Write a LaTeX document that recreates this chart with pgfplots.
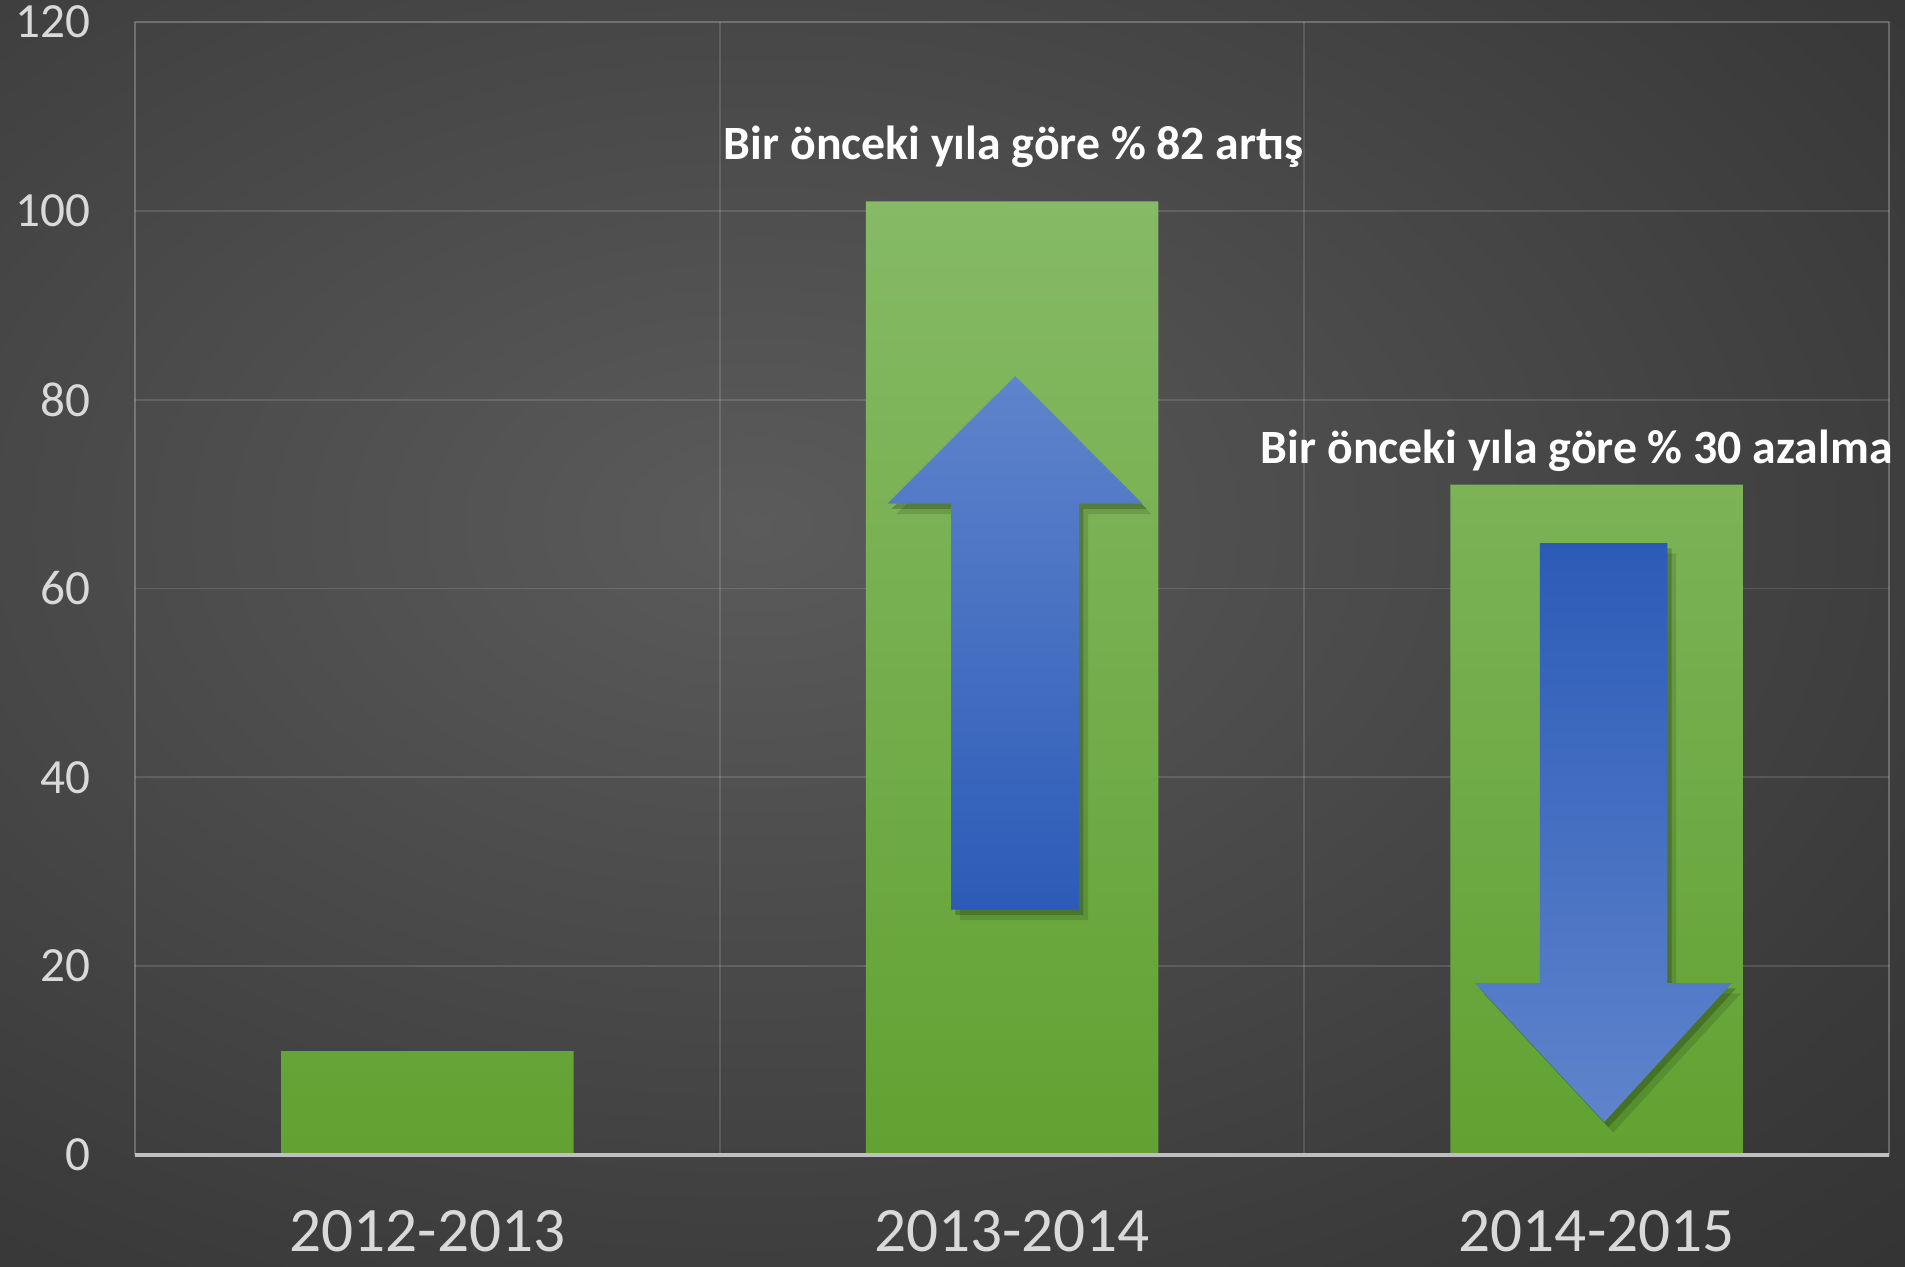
\documentclass[border=0pt]{standalone}
\usepackage{pgfplots}
\pgfplotsset{compat=1.18}
\usepackage{fontspec}
\setmainfont{Carlito}
\definecolor{bg0}{HTML}{5B5B5B}
\definecolor{bg1}{HTML}{4F4F4F}
\definecolor{bg2}{HTML}{3A3A3A}
\definecolor{bg3}{HTML}{2B2B2B}
\definecolor{axc}{HTML}{BFBFBF}
\definecolor{lbl}{HTML}{D9D9D9}
\definecolor{gtop}{HTML}{86BA66}
\definecolor{gbot}{HTML}{61A232}
\definecolor{blight}{HTML}{5F84CC}
\definecolor{bdark}{HTML}{2C5BB7}
\pgfdeclareradialshading{bgshade}{\pgfpoint{0bp}{0bp}}{color(0bp)=(bg0); color(10bp)=(bg1); color(28bp)=(bg2); color(45bp)=(bg3); color(50bp)=(bg3)}
\begin{document}
\begin{tikzpicture}
\begin{scope}
\clip (-1.35,-1.11) rectangle (17.70,11.55);
\shade[shading=bgshade] (-5.4,-1.2) rectangle (17.8,13.8);
\end{scope}
\begin{axis}[
  at={(0,0)}, anchor=south west,
  scale only axis, width=17.54cm, height=11.33cm,
  xmin=-0.5, xmax=2.5, ymin=0, ymax=120,
  xtick={0,1,2}, xticklabels={2012-2013,2013-2014,2014-2015},
  minor xtick={-0.5,0.5,1.5,2.5},
  ytick={0,20,...,120},
  xminorgrids=true, ymajorgrids=true,
  grid style={draw=white, draw opacity=0.13, line width=0.5pt},
  minor grid style={draw=white, draw opacity=0.13, line width=0.5pt},
  axis line style={draw=white, draw opacity=0.13, line width=0.5pt},
  major tick length=0pt, minor tick length=0pt,
  tick style={draw=none},
  /pgf/number format/assume math mode=true,
  yticklabel style={font=\fontsize{14}{16}\selectfont, text=lbl, anchor=east, inner sep=0pt, xshift=-0.44cm},
  xticklabel style={font=\fontsize{18}{21}\selectfont, text=lbl, anchor=north, inner sep=0pt, yshift=-0.55cm},
  clip=false,
]
\addplot[ybar, bar width=2.925cm, draw=none, top color=gtop, bottom color=gbot] coordinates {(0,11) (1,101) (2,71)};
\addplot[draw=axc, line width=1.4pt] coordinates {(-0.5,0) (2.5,0)};
% soft shadows
\addplot[fill=black, draw=none, opacity=0.12, xshift=2.5pt, yshift=-3pt] coordinates {(0.896,26) (1.115,26) (1.115,69) (1.223,69) (1.0055,82.5) (0.787,69) (0.896,69)} -- cycle;
\addplot[fill=black, draw=none, opacity=0.2, xshift=1.2pt, yshift=-1.5pt] coordinates {(0.896,26) (1.115,26) (1.115,69) (1.223,69) (1.0055,82.5) (0.787,69) (0.896,69)} -- cycle;
\addplot[fill=black, draw=none, opacity=0.12, xshift=2.5pt, yshift=-3pt] coordinates {(1.903,64.8) (2.121,64.8) (2.121,18.2) (2.231,18.2) (2.013,3.5) (1.792,18.2) (1.903,18.2)} -- cycle;
\addplot[fill=black, draw=none, opacity=0.2, xshift=1.2pt, yshift=-1.5pt] coordinates {(1.903,64.8) (2.121,64.8) (2.121,18.2) (2.231,18.2) (2.013,3.5) (1.792,18.2) (1.903,18.2)} -- cycle;
% arrows
\addplot[draw=none, top color=blight, bottom color=bdark] coordinates {(0.896,26) (1.115,26) (1.115,69) (1.223,69) (1.0055,82.5) (0.787,69) (0.896,69)} -- cycle;
\addplot[draw=none, top color=bdark, bottom color=blight] coordinates {(1.903,64.8) (2.121,64.8) (2.121,18.2) (2.231,18.2) (2.013,3.5) (1.792,18.2) (1.903,18.2)} -- cycle;
\node[anchor=base, text=white, font=\bfseries\fontsize{13.6}{16}\selectfont, inner sep=0pt] at (axis cs:1.003,105.4) {Bir önceki yıla göre \% 82 artış};
\node[anchor=base, text=white, font=\bfseries\fontsize{13.6}{16}\selectfont, inner sep=0pt] at (axis cs:1.966,73.2) {Bir önceki yıla göre \% 30 azalma};
\end{axis}
\pgfresetboundingbox
\path[use as bounding box] (-1.35,-1.11) rectangle (17.70,11.55);
\end{tikzpicture}
\end{document}
